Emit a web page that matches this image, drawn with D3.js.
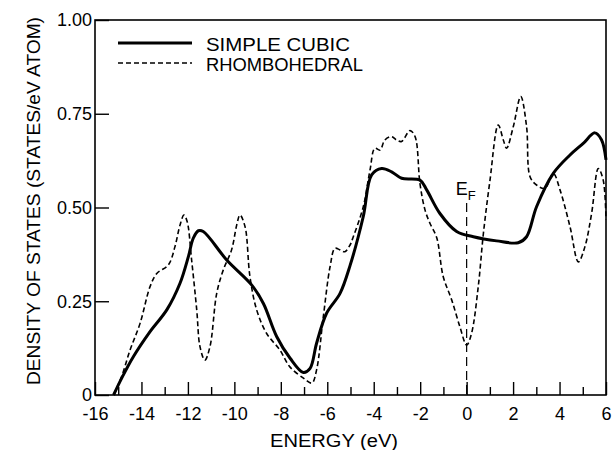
<!DOCTYPE html>
<html>
<head>
<meta charset="utf-8">
<script src="https://cdn.jsdelivr.net/npm/d3@7"></script>
<style>
  body { margin: 0; background: #fff; }
  svg text { font-family: "Liberation Sans", Arial, sans-serif; fill: #000; }
</style>
</head>
<body>
<svg id="chart" width="615" height="450"></svg>
<script>
// energy (eV) and density of states
var energyCubic = [-15.2, -14.85, -14.35, -13.63, -12.91, -12.34, -11.98, -11.77, -11.55, -11.34,
  -10.33, -9.25, -8.75, -8.18, -7.6, -7.03, -6.74, -6.46, -6.03, -5.45, -5.02, -4.45, -4.09,
  -3.66, -3.23, -2.8, -2.01, -1.72, -1.15, -0.43, 0.29, 1.29, 2.22, 2.58, 3.01, 3.73, 4.45,
  5.02, 5.52, 5.81, 6.0];
var dosCubic = [0.0, 0.045, 0.102, 0.169, 0.227, 0.298, 0.369, 0.418, 0.438, 0.436,
  0.36, 0.293, 0.244, 0.156, 0.098, 0.06, 0.071, 0.138, 0.218, 0.271, 0.345, 0.476, 0.587,
  0.604, 0.595, 0.578, 0.573, 0.547, 0.484, 0.436, 0.422, 0.411, 0.406, 0.422, 0.502, 0.591, 0.64,
  0.671, 0.699, 0.68, 0.627];

var energyRhombo = [-15.2, -14.85, -14.49, -14.06, -13.63, -13.34, -12.84, -12.56, -12.34, -12.17,
  -12.03, -11.84, -11.62, -11.48, -11.27, -11.05, -10.76, -10.48, -10.12, -9.9, -9.76, -9.54,
  -9.33, -9.04, -8.61, -8.04, -7.61, -6.96, -6.66, -6.46, -6.17, -5.88, -5.67, -5.45, -5.24,
  -5.02, -4.88, -4.45, -4.16, -3.95, -3.73, -3.52, -3.23, -3.02, -2.8, -2.44, -2.22, -2.01,
  -1.79, -1.58, -1.29, -1.01, -0.64, -0.29, 0.0, 0.21, 0.5, 0.72, 1.0, 1.36, 1.58, 1.72,
  2.01, 2.33, 2.58, 2.73, 3.01, 3.37, 3.73, 4.02, 4.45, 4.81, 5.09, 5.38, 5.67, 5.88, 6.0];
var dosRhombo = [0.0, 0.05, 0.12, 0.191, 0.289, 0.324, 0.347, 0.395, 0.453, 0.48,
  0.462, 0.36, 0.227, 0.129, 0.093, 0.129, 0.271, 0.333, 0.387, 0.453, 0.48, 0.449,
  0.316, 0.227, 0.164, 0.12, 0.075, 0.042, 0.032, 0.067, 0.209, 0.342, 0.391, 0.387, 0.382,
  0.4, 0.422, 0.502, 0.6, 0.658, 0.653, 0.68, 0.689, 0.68, 0.676, 0.705, 0.689, 0.564,
  0.493, 0.458, 0.42, 0.316, 0.253, 0.182, 0.133, 0.164, 0.289, 0.43, 0.57, 0.72, 0.68, 0.658,
  0.716, 0.796, 0.716, 0.582, 0.56, 0.551, 0.591, 0.547, 0.449, 0.355, 0.395, 0.484, 0.604, 0.573, 0.467];

var xMajorTicks = [-16, -14, -12, -10, -8, -6, -4, -2, 0, 2, 4, 6];
var xMinorTicks = [-15, -13, -11, -9, -7, -5, -3, -1, 1, 3, 5];
var yTicks = [0, 0.25, 0.5, 0.75, 1];
var yTickLabels = ["0", "0.25", "0.50", "0.75", "1.00"];
var seriesNames = ["SIMPLE CUBIC", "RHOMBOHEDRAL"];
var fermiEnergy = 0;

var svg = d3.select("#chart");
var x = d3.scaleLinear().domain([-16, 6]).range([95, 606]);
var y = d3.scaleLinear().domain([0, 1]).range([395, 20]);

// minor ticks (odd eV), short, pointing inward
svg.append("g")
  .attr("transform", "translate(0," + y(0) + ")")
  .call(d3.axisBottom(x).tickValues(xMinorTicks).tickSize(-8).tickFormat(""))
  .call(function(g){ g.select(".domain").remove(); })
  .selectAll("line").attr("stroke", "#000").attr("stroke-width", 1.4);

// major ticks with labels
svg.append("g")
  .attr("transform", "translate(0," + y(0) + ")")
  .call(d3.axisBottom(x).tickValues(xMajorTicks).tickSize(-13).tickPadding(12)
    .tickFormat(function(d){ return String(d); }))
  .call(function(g){ g.select(".domain").remove(); })
  .call(function(g){
    g.selectAll("line").attr("stroke", "#000").attr("stroke-width", 1.4);
    g.selectAll("text").attr("font-size", 18).attr("font-family", "Liberation Sans, Arial, sans-serif");
  });

svg.append("g")
  .attr("transform", "translate(" + x(-16) + ",0)")
  .call(d3.axisLeft(y).tickValues(yTicks).tickSize(-14).tickPadding(3)
    .tickFormat(function(d, i){ return yTickLabels[i]; }))
  .call(function(g){ g.select(".domain").remove(); })
  .call(function(g){
    g.selectAll("line").attr("stroke", "#000").attr("stroke-width", 1.4);
    g.selectAll("text").attr("font-size", 18).attr("font-family", "Liberation Sans, Arial, sans-serif");
  });

// frame
svg.append("rect")
  .attr("x", x(-16)).attr("y", y(1))
  .attr("width", x(6) - x(-16)).attr("height", y(0) - y(1))
  .attr("fill", "none").attr("stroke", "#000").attr("stroke-width", 1.6);

// Fermi level marker
svg.append("line")
  .attr("x1", x(fermiEnergy)).attr("x2", x(fermiEnergy))
  .attr("y1", 203).attr("y2", y(0))
  .attr("stroke", "#000").attr("stroke-width", 1.2).attr("stroke-dasharray", "9,5");
var ef = svg.append("text").attr("x", x(fermiEnergy) - 11).attr("y", 195).attr("font-size", 18);
ef.append("tspan").text("E");
ef.append("tspan").attr("font-size", 13).attr("dy", 5).text("F");

var line = d3.line()
  .x(function(d){ return x(d[0]); })
  .y(function(d){ return y(d[1]); })
  .curve(d3.curveCatmullRom.alpha(0.5));

svg.append("path")
  .datum(d3.zip(energyRhombo, dosRhombo))
  .attr("d", line)
  .attr("fill", "none").attr("stroke", "#000")
  .attr("stroke-width", 1.6).attr("stroke-dasharray", "5,3");

svg.append("path")
  .datum(d3.zip(energyCubic, dosCubic))
  .attr("d", line)
  .attr("fill", "none").attr("stroke", "#000")
  .attr("stroke-width", 3).attr("stroke-linejoin", "round");

// legend
var legend = svg.append("g");
legend.append("line").attr("x1", 118).attr("x2", 192).attr("y1", 43).attr("y2", 43)
  .attr("stroke", "#000").attr("stroke-width", 3);
legend.append("line").attr("x1", 118).attr("x2", 192).attr("y1", 63).attr("y2", 63)
  .attr("stroke", "#000").attr("stroke-width", 1.6).attr("stroke-dasharray", "5,3");
legend.append("text").attr("x", 206).attr("y", 51).attr("font-size", 19)
  .attr("textLength", 144).attr("lengthAdjust", "spacingAndGlyphs").text(seriesNames[0]);
legend.append("text").attr("x", 206).attr("y", 71).attr("font-size", 19)
  .attr("textLength", 157).attr("lengthAdjust", "spacingAndGlyphs").text(seriesNames[1]);

// axis titles
svg.append("text")
  .attr("x", 334).attr("y", 447).attr("text-anchor", "middle").attr("font-size", 18)
  .attr("textLength", 128).attr("lengthAdjust", "spacingAndGlyphs")
  .text("ENERGY (eV)");
svg.append("text")
  .attr("transform", "translate(40,201) rotate(-90)")
  .attr("text-anchor", "middle").attr("font-size", 18)
  .attr("textLength", 368).attr("lengthAdjust", "spacingAndGlyphs")
  .text("DENSITY OF STATES (STATES/eV ATOM)");
</script>
</body>
</html>
